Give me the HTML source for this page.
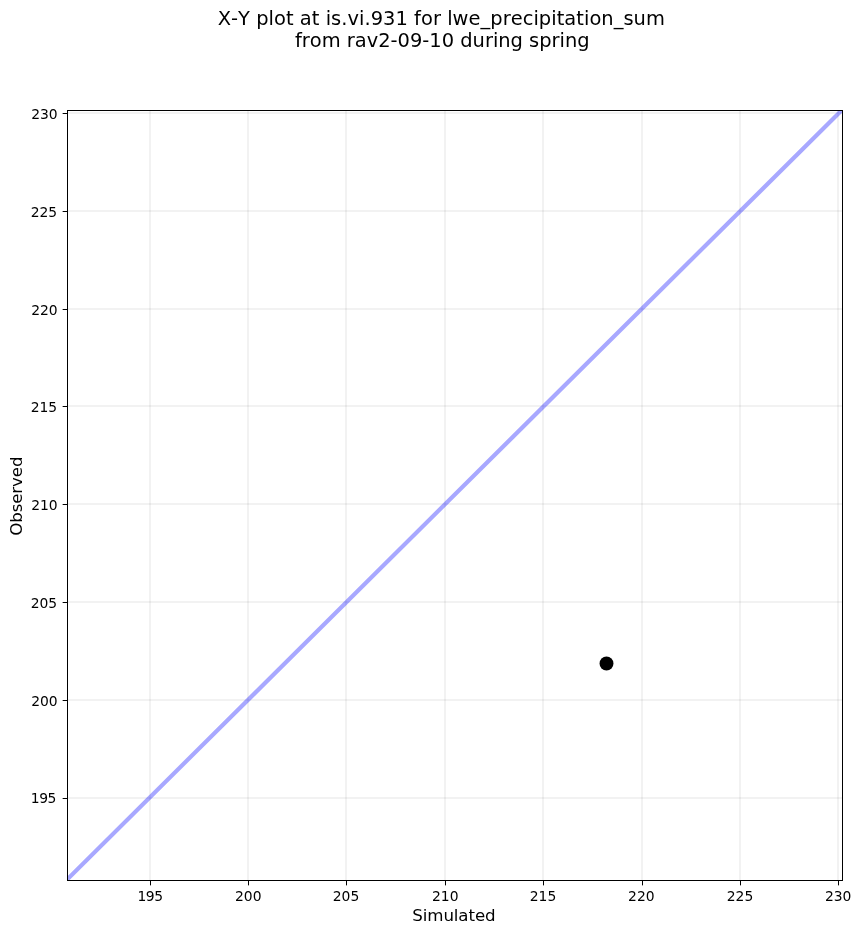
<!DOCTYPE html>
<html lang="en"><head><meta charset="utf-8"><title>X-Y plot</title>
<style>
html,body{margin:0;padding:0;background:#fff;}
body{width:861px;height:934px;overflow:hidden;}
svg{display:block;}
text{font-family:"DejaVu Sans","Liberation Sans",sans-serif;fill:#000;font-kerning:none;font-variant-ligatures:none;}
.tk{font-size:13.89px;}
.lb{font-size:16.67px;}
.tt{font-size:19.44px;}
</style></head><body>
<svg width="861" height="934" viewBox="0 0 861 934">
<rect x="0" y="0" width="861" height="934" fill="#fff"/>
<defs><clipPath id="ax"><rect x="67.5" y="110.5" width="775" height="770"/></clipPath></defs>
<g clip-path="url(#ax)">
<g fill="#000" fill-opacity="0.05" shape-rendering="crispEdges">
<rect x="149" y="110" width="2" height="771"/>
<rect x="247" y="110" width="2" height="771"/>
<rect x="345" y="110" width="2" height="771"/>
<rect x="444" y="110" width="2" height="771"/>
<rect x="542" y="110" width="2" height="771"/>
<rect x="641" y="110" width="2" height="771"/>
<rect x="739" y="110" width="2" height="771"/>
<rect x="837" y="110" width="2" height="771"/>
<rect x="67" y="112" width="776" height="2"/>
<rect x="67" y="210" width="776" height="2"/>
<rect x="67" y="308" width="776" height="2"/>
<rect x="67" y="405" width="776" height="2"/>
<rect x="67" y="503" width="776" height="2"/>
<rect x="67" y="601" width="776" height="2"/>
<rect x="67" y="699" width="776" height="2"/>
<rect x="67" y="797" width="776" height="2"/>
</g>
<line x1="67.5" y1="879.15" x2="842.5" y2="109.5" stroke="#0000ff" stroke-opacity="0.34" stroke-width="4.17" stroke-linecap="square"/>
<circle cx="606.5" cy="663.5" r="6.95" fill="#000"/>
</g>
<g fill="#000">
<rect x="150" y="881" width="1" height="4.36"/>
<rect x="248" y="881" width="1" height="4.36"/>
<rect x="346" y="881" width="1" height="4.36"/>
<rect x="445" y="881" width="1" height="4.36"/>
<rect x="543" y="881" width="1" height="4.36"/>
<rect x="642" y="881" width="1" height="4.36"/>
<rect x="740" y="881" width="1" height="4.36"/>
<rect x="838" y="881" width="1" height="4.36"/>
<rect x="62.64" y="113" width="4.36" height="1"/>
<rect x="62.64" y="211" width="4.36" height="1"/>
<rect x="62.64" y="309" width="4.36" height="1"/>
<rect x="62.64" y="406" width="4.36" height="1"/>
<rect x="62.64" y="504" width="4.36" height="1"/>
<rect x="62.64" y="602" width="4.36" height="1"/>
<rect x="62.64" y="700" width="4.36" height="1"/>
<rect x="62.64" y="798" width="4.36" height="1"/>
</g>
<rect x="67.5" y="110.5" width="775" height="770" fill="none" stroke="#000" stroke-width="1" shape-rendering="crispEdges"/>
<text class="tk" x="150.0" y="900.5" text-anchor="middle" letter-spacing="-0.45">195</text>
<text class="tk" x="248.3" y="900.5" text-anchor="middle">200</text>
<text class="tk" x="346.0" y="900.5" text-anchor="middle">205</text>
<text class="tk" x="445.25" y="900.5" text-anchor="middle">210</text>
<text class="tk" x="543.05" y="900.5" text-anchor="middle">215</text>
<text class="tk" x="641.35" y="900.5" text-anchor="middle">220</text>
<text class="tk" x="740.0" y="900.5" text-anchor="middle">225</text>
<text class="tk" x="838.2" y="900.5" text-anchor="middle">230</text>
<text class="tk" x="57.7" y="118.7" text-anchor="end">230</text>
<text class="tk" x="57.2" y="216.7" text-anchor="end">225</text>
<text class="tk" x="57.7" y="314.7" text-anchor="end">220</text>
<text class="tk" x="57.2" y="411.7" text-anchor="end">215</text>
<text class="tk" x="57.7" y="509.7" text-anchor="end">210</text>
<text class="tk" x="57.2" y="607.7" text-anchor="end">205</text>
<text class="tk" x="57.7" y="705.7" text-anchor="end">200</text>
<text class="tk" x="56.0" y="802.7" text-anchor="end" letter-spacing="-0.4">195</text>
<text class="lb" x="453.9" y="920.5" text-anchor="middle" letter-spacing="-0.1">Simulated</text>
<text class="lb" transform="translate(22,496.2) rotate(-90)" text-anchor="middle" letter-spacing="-0.12">Observed</text>
<text class="tt" x="441.3" y="24.5" text-anchor="middle" letter-spacing="0.04">X-Y plot at is.vi.931 for lwe_precipitation_sum</text>
<text class="tt" x="442.3" y="47" text-anchor="middle">from rav2-09-10 during spring</text>
</svg></body></html>
